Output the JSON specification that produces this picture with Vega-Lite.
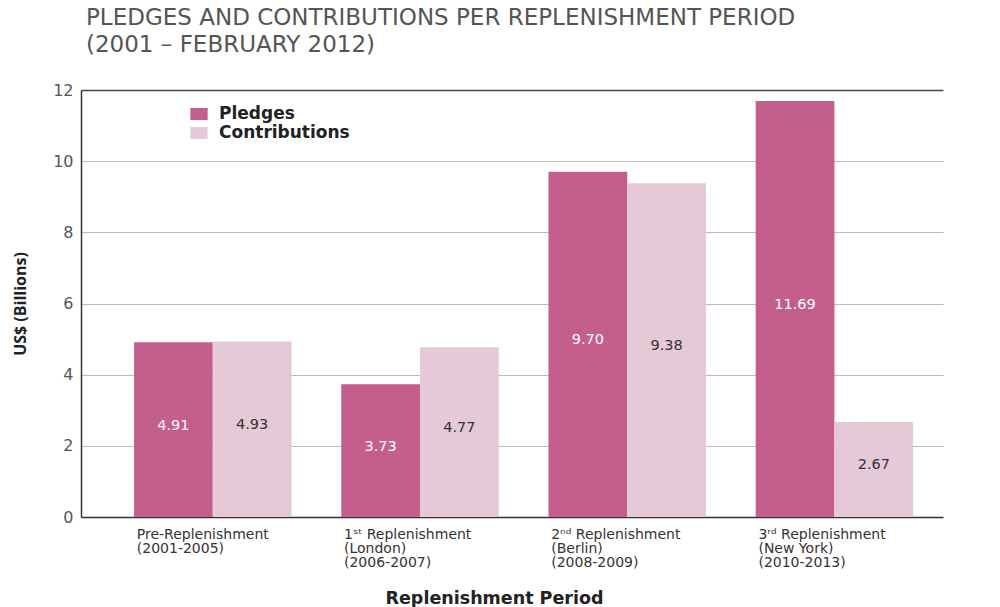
{
  "$schema": "https://vega.github.io/schema/vega-lite/v6.json",
  "autosize": "none",
  "width": 862,
  "height": 427,
  "padding": {"left": 81, "top": 90, "right": 57, "bottom": 90},
  "background": "white",
  "title": {
    "text": ["PLEDGES AND CONTRIBUTIONS PER REPLENISHMENT PERIOD", "(2001 – FEBRUARY 2012)"],
    "anchor": "start",
    "frame": "group",
    "dx": 5,
    "offset": 25,
    "font": "DejaVu Sans",
    "fontSize": 23,
    "fontWeight": "normal",
    "color": "#555555",
    "lineHeight": 27
  },
  "data": {
    "values": [
      {"period": "Pre-Replenishment|(2001-2005)", "type": "Pledges", "value": 4.91},
      {"period": "Pre-Replenishment|(2001-2005)", "type": "Contributions", "value": 4.93},
      {"period": "1ˢᵗ Replenishment|(London)|(2006-2007)", "type": "Pledges", "value": 3.73},
      {"period": "1ˢᵗ Replenishment|(London)|(2006-2007)", "type": "Contributions", "value": 4.77},
      {"period": "2ⁿᵈ Replenishment|(Berlin)|(2008-2009)", "type": "Pledges", "value": 9.70},
      {"period": "2ⁿᵈ Replenishment|(Berlin)|(2008-2009)", "type": "Contributions", "value": 9.38},
      {"period": "3ʳᵈ Replenishment|(New York)|(2010-2013)", "type": "Pledges", "value": 11.69},
      {"period": "3ʳᵈ Replenishment|(New York)|(2010-2013)", "type": "Contributions", "value": 2.67}
    ]
  },
  "encoding": {
    "x": {
      "field": "period",
      "type": "nominal",
      "sort": null,
      "scale": {"paddingInner": 0.24, "paddingOuter": 0.2, "align": 0.64},
      "axis": {
        "title": "Replenishment Period",
        "titleFont": "DejaVu Sans",
        "titleFontSize": 17.5,
        "titleFontWeight": "bold",
        "titleColor": "#222222",
        "titleX": 413,
        "titleY": 86,
        "titleAlign": "center",
        "titleBaseline": "alphabetic",
        "labelExpr": "split(datum.label, '|')",
        "labelAngle": 0,
        "labelAlign": "left",
        "labelBaseline": "top",
        "labelOffset": -76,
        "labelPadding": 10,
        "labelFont": "DejaVu Sans",
        "labelFontSize": 14,
        "labelColor": "#333333",
        "labelLineHeight": 14,
        "ticks": false,
        "domainColor": "#333333",
        "domainWidth": 1.5,
        "grid": false
      }
    },
    "xOffset": {"field": "type", "type": "nominal", "sort": ["Pledges", "Contributions"], "scale": {"paddingInner": 0, "paddingOuter": 0}}
  },
  "layer": [
    {
      "mark": {"type": "bar"},
      "encoding": {
        "y": {
          "field": "value",
          "type": "quantitative",
          "scale": {"domain": [0, 12]},
          "axis": {
            "title": "US$ (Billions)",
            "titleFont": "Open Sans",
            "titleFontSize": 16,
            "titleFontWeight": "bold",
            "titleColor": "#222222",
            "titlePadding": 24,
            "values": [0, 2, 4, 6, 8, 10, 12],
            "labelFont": "DejaVu Sans",
            "labelFontSize": 16,
            "labelColor": "#555555",
            "labelPadding": 8,
            "ticks": false,
            "domainColor": "#333333",
            "domainWidth": 1.5,
            "grid": true,
            "gridColor": {"condition": {"test": "datum.value == 12", "value": "#444444"}, "value": "#bbbbbb"},
            "gridWidth": {"condition": {"test": "datum.value == 12", "value": 1.5}, "value": 1.2}
          }
        },
        "color": {
          "field": "type",
          "type": "nominal",
          "sort": ["Pledges", "Contributions"],
          "scale": {"domain": ["Pledges", "Contributions"], "range": ["#c45e8c", "#e5c9d7"]},
          "legend": {
            "title": null,
            "orient": "none",
            "legendX": 109,
            "legendY": 15,
            "symbolType": "M-1,-0.7H1V0.7H-1Z",
            "symbolSize": 300,
            "symbolStrokeWidth": 0,
            "symbolOpacity": 1,
            "labelFont": "DejaVu Sans",
            "labelFontSize": 17,
            "labelFontWeight": "bold",
            "labelColor": "#222222",
            "labelOffset": 11,
            "rowPadding": 2
          }
        }
      }
    },
    {
      "mark": {"type": "text", "font": "DejaVu Sans", "fontSize": 14.5, "baseline": "middle", "dy": -4},
      "encoding": {
        "y": {"field": "value", "type": "quantitative", "scale": {"domain": [0, 24]}, "axis": null},
        "text": {"field": "value", "type": "quantitative", "format": ".2f"},
        "color": {"condition": {"test": "datum.type == 'Pledges'", "value": "#ffffff"}, "value": "#333333"}
      }
    }
  ],
  "resolve": {"scale": {"y": "independent"}},
  "config": {"view": {"stroke": null}}
}
